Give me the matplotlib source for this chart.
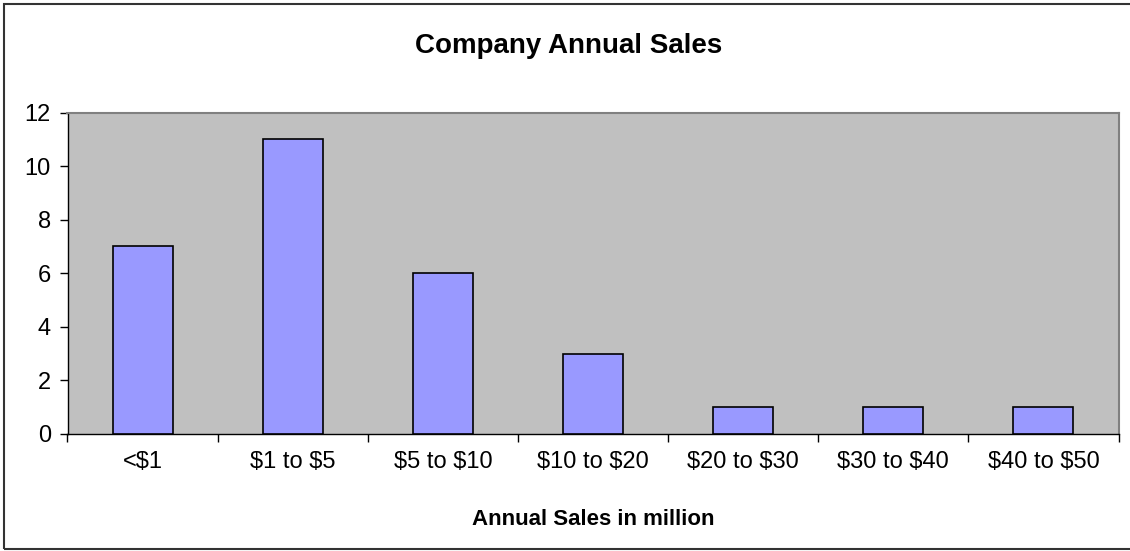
import numpy as np
import matplotlib.pyplot as plt
from matplotlib.patches import Rectangle

# sales bands and number of companies in each
categories = ['<$1', '$1 to $5', '$5 to $10', '$10 to $20', '$20 to $30', '$30 to $40', '$40 to $50']
companies = [7, 11, 6, 3, 1, 1, 1]
y_ticks = [0, 2, 4, 6, 8, 10, 12]

plt.rcParams['font.family'] = ['Liberation Sans', 'DejaVu Sans']
plt.rcParams['text.parse_math'] = False

fig = plt.figure(figsize=(11.3, 5.51), dpi=100)
ax = fig.add_axes([67.5 / 1130, 117 / 551, (1118.5 - 67.5) / 1130, (434 - 112.5) / 551])
ax.set_facecolor('#C0C0C0')

x = np.arange(len(categories))
ax.bar(x, companies, width=0.4, color='#9999FF', edgecolor='black', linewidth=1.2, zorder=3)

ax.set_xlim(-0.5, len(categories) - 0.5)
ax.set_ylim(0, 12)
ax.set_yticks(y_ticks)
ax.set_yticklabels([str(t) for t in y_ticks], fontsize=17)

# ticks sit between the categories, labels under each bar
ax.set_xticks(np.arange(len(categories) + 1) - 0.5)
ax.set_xticklabels([])
ax.set_xticks(x, minor=True)
ax.set_xticklabels(categories, minor=True, fontsize=17)
ax.tick_params(axis='x', which='minor', length=0, pad=12)
ax.tick_params(axis='x', which='major', length=6, width=1, direction='out')
ax.tick_params(axis='y', length=6, width=1, direction='out', pad=6)

for side in ['top', 'right']:
    ax.spines[side].set_color('#808080')
    ax.spines[side].set_linewidth(1.5)
for side in ['left', 'bottom']:
    ax.spines[side].set_color('black')
    ax.spines[side].set_linewidth(1)

ax.set_xlabel('Annual Sales in million', fontsize=16, fontweight='bold', labelpad=26)
fig.text(569 / 1130, 1 - 46 / 551, 'Company Annual Sales', ha='center', va='center',
         fontsize=20, fontweight='bold')

# chart frame
fig.patches.append(Rectangle((3.5 / 1130, 2 / 551), 1.2, 1 - 5.5 / 551, transform=fig.transFigure,
                             fill=False, edgecolor='#333333', linewidth=1.5))

fig.savefig('out.png', dpi=100)
